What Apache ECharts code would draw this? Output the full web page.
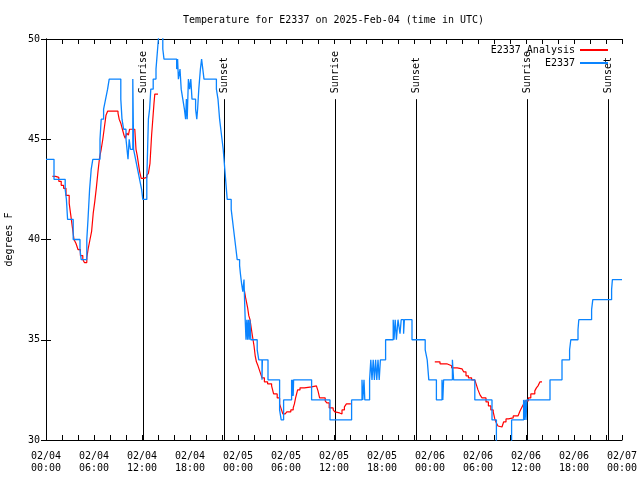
<!DOCTYPE html>
<html><head><meta charset="utf-8">
<script src="https://cdn.jsdelivr.net/npm/echarts@6/dist/echarts.min.js"></script>
<style>html,body{margin:0;padding:0;background:#fff}#c{width:640px;height:480px}</style>
</head><body><div id="c"></div>
<script>
// hours since 02/04 00:00 UTC
const xTickLabels = ['02/04\n00:00','02/04\n06:00','02/04\n12:00','02/04\n18:00','02/05\n00:00','02/05\n06:00','02/05\n12:00','02/05\n18:00','02/06\n00:00','02/06\n06:00','02/06\n12:00','02/06\n18:00','02/07\n00:00'];

const obsHours = [0,1.0,2.4,2.55,2.7,3.4,4.25,4.4,5.1,5.25,5.45,5.65,5.85,6.75,6.9,7.2,7.45,7.7,7.9,9.35,9.5,9.7,10.0,10.25,10.4,10.55,10.85,10.95,11.2,11.45,11.7,11.95,12.1,12.6,12.7,12.8,12.95,13.1,13.4,13.75,13.95,14.15,14.6,14.75,
 16.33,16.45,16.55,16.75,16.9,17.1,17.3,17.45,17.55,17.65,17.8,17.95,18.1,18.25,18.5,18.7,18.85,18.95,19.1,19.3,19.45,19.6,19.75,21.3,21.5,21.7,21.85,22.0,22.15,22.25,22.35,22.45,22.55,22.65,23.15,23.3,23.45,23.6,23.75,23.9,
 24.2,24.3,24.45,24.6,24.75,24.82,24.9,25.0,25.1,25.2,25.3,25.4,25.5,25.6,26.4,26.6,27.0,27.05,27.75,29.2,29.4,29.7,30.7,30.78,30.84,30.9,30.95,33.2,35.5,38.2,39.5,39.6,39.75,39.85,40.45,40.6,40.75,40.9,41.05,41.2,41.35,41.5,41.65,41.8,42.45,43.4,43.5,43.65,43.8,44.0,44.25,44.4,44.7,44.8,45.75,
 47.4,47.65,47.85,48.8,49.5,49.6,49.7,50.8,50.95,53.6,55.75,56.3,58.2,59.7,59.8,59.9,60.0,60.1,63.0,64.5,65.45,65.6,66.5,66.6,68.2,68.35,70.7,70.8,72];
const obsTempF = [44,43,42.5,42,41,40,39.5,39,40,41,42.5,43.5,44,45,46,46.5,47,47.5,48,47,46,45.5,45,44,45,44.5,48,44.5,44,43.5,43,42.5,42,43,44.5,46,46.5,47.5,48,48.5,49.5,50.5,49.5,49,
 48.5,49,48,48.5,47.5,47,46.5,46,47,46,48,47.5,48,47,47,46.5,46,46.5,47.5,48.5,49,48.5,48,47.5,47,46,45.5,45,44.5,44,43.5,43,42.5,42,41.5,41,40.5,40,39.5,39,
 38.7,38.3,37.8,37.4,38,37,36,35,36,35,36,35,36,35,34.5,34,33,34,33,31.5,31,32,33,32.2,33,32.2,33,32,31,32,33,32,33,32,33,34,33,34,33,34,33,34,33,34,35,36,35,36,35,36,35.3,36,35.3,36,35,
 34.5,34,33,32,33,32,33,34,33,32,31,29,31,32,31,32,31,32,33,34,34.5,35,35.5,36,36.5,37,37.5,38,38];

const anaHours = [0.8,1.2,1.6,1.9,2.2,2.5,2.9,3.1,3.3,3.5,3.75,4.0,4.3,4.6,4.8,5.1,5.3,5.5,5.7,5.9,6.1,6.3,6.5,6.7,6.9,7.1,7.3,7.5,7.7,9.0,9.15,9.35,9.55,9.75,9.9,10.1,10.3,10.45,11.1,11.25,11.4,11.55,11.7,11.9,12.2,12.6,12.8,13.0,13.1,13.2,13.35,13.5,13.6,13.9,
 14.0,
 24.8,24.95,25.05,25.2,25.35,25.5,25.65,25.8,26.0,26.15,26.3,26.5,26.75,27.0,27.3,27.7,28.2,28.45,28.9,29.2,29.4,29.6,29.9,30.1,30.6,30.9,31.05,31.2,31.45,31.75,32.3,33.2,33.8,34.0,34.2,34.9,35.1,35.4,35.9,36.1,36.3,36.7,37.0,37.3,37.55,38.0,
 38.1,
 48.6,49.25,50.1,50.4,50.7,51.4,52.0,52.2,52.5,52.8,53.2,53.6,53.8,54.0,54.25,54.5,55.0,55.3,55.6,55.9,56.1,56.3,56.5,56.7,57.0,57.2,57.5,57.8,58.4,59.0,59.25,59.5,59.7,59.9,60.3,60.6,61.1,61.3,61.5,61.75,62.0];
const anaTempF = [43.15,43.1,42.9,42.7,42.55,42.2,41.8,41.2,40.6,40.0,39.8,39.5,39.2,39.0,38.85,39.1,39.6,40.0,40.4,41.3,41.9,42.6,43.4,44.1,44.5,45.0,45.6,46.2,46.4,46.3,46.0,45.8,45.5,45.2,45.05,45.3,45.2,45.5,45.5,44.5,44.2,43.8,43.4,43.05,43.1,43.2,43.3,43.8,44.5,45.2,46.0,46.8,47.25,47.25,
 null,
 37.45,37.1,36.9,36.6,36.2,36.0,35.6,35.2,34.7,34.2,33.9,33.7,33.4,33.1,32.9,32.8,32.7,32.3,32.1,31.8,31.55,31.3,31.3,31.4,31.5,31.6,31.8,32.1,32.5,32.6,32.65,32.7,32.7,32.45,32.1,31.95,31.85,31.6,31.5,31.4,31.35,31.3,31.5,31.65,31.8,31.8,
 null,
 33.9,33.8,33.75,33.7,33.6,33.55,33.5,33.4,33.2,33.1,33.0,32.95,32.75,32.5,32.25,32.1,31.9,31.7,31.5,31.4,31.05,30.85,30.7,30.65,30.7,30.9,31.05,31.1,31.2,31.2,31.45,31.65,31.8,31.95,32.1,32.3,32.45,32.6,32.7,32.9,32.9];

const sunEventHours = [12.15, 22.28, 36.12, 46.27, 60.07, 70.28];
const sunEventNames = ['Sunrise','Sunset','Sunrise','Sunset','Sunrise','Sunset'];

const FONT = 'DejaVu Sans Mono';
const txt = {fontFamily: FONT, fontSize: 10, color: '#000'};

const obsData = obsHours.map((h, i) => [h, obsTempF[i]]);
const anaData = anaHours.map((h, i) => [h, anaTempF[i] === null ? '-' : anaTempF[i]]);
const sunData = sunEventHours.map((h, i) => [h, i]);

const axisLine = {show: true, lineStyle: {color: '#000', width: 1}};
const xCommon = {
  type: 'value', min: 0, max: 72, interval: 6,
  axisLine: axisLine,
  axisTick: {show: true, inside: true, length: 5, lineStyle: {color: '#000'}},
  minorTick: {show: true, splitNumber: 3, length: 5, lineStyle: {color: '#000'}},
  splitLine: {show: false}, minorSplitLine: {show: false}
};
const yCommon = {
  type: 'value', min: 30, max: 50, interval: 5,
  axisLine: axisLine,
  axisTick: {show: true, inside: true, length: 5, lineStyle: {color: '#000'}},
  splitLine: {show: false}
};

const chart = echarts.init(document.getElementById('c'));
chart.setOption({
  animation: false,
  backgroundColor: '#fff',
  title: {text: 'Temperature for E2337 on 2025-Feb-04 (time in UTC)', left: 178, top: 10,
    textStyle: Object.assign({fontWeight: 'normal'}, txt)},
  grid: {left: 46, right: 18, top: 39, bottom: 40, containLabel: false, outerBoundsMode: 'none'},
  legend: {
    orient: 'vertical', align: 'right', right: 26, top: 40,
    itemWidth: 28, itemHeight: 10, itemGap: 3,
    itemStyle: {opacity: 0},
    textStyle: txt,
    data: ['E2337 Analysis', 'E2337']
  },
  xAxis: [
    Object.assign({}, xCommon, {position: 'bottom',
      axisLabel: Object.assign({margin: 10, lineHeight: 12, formatter: v => xTickLabels[Math.round(v / 6)]}, txt)}),
    Object.assign({}, xCommon, {position: 'top', axisLabel: {show: false}})
  ],
  yAxis: [
    Object.assign({}, yCommon, {position: 'left', name: 'degrees F', nameLocation: 'middle', nameRotate: 90, nameGap: 32,
      nameTextStyle: txt, axisLabel: Object.assign({margin: 6}, txt)}),
    Object.assign({}, yCommon, {position: 'right', axisLabel: {show: false}})
  ],
  series: [
    {
      type: 'custom', name: 'sun', xAxisIndex: 0, yAxisIndex: 0, silent: true, z: 1,
      data: sunData,
      renderItem: function (params, api) {
        const t = api.value(0);
        const p0 = api.coord([t, 30]);
        const p1 = api.coord([t, 47.0]);
        const x = Math.round(p0[0]) + 0.5;
        return {
          type: 'group',
          children: [
            {type: 'line', shape: {x1: x, y1: p0[1], x2: x, y2: p1[1]}, style: {stroke: '#000', lineWidth: 1}},
            {type: 'text', x: x, y: p1[1] - 6, rotation: Math.PI / 2,
              style: {text: sunEventNames[params.dataIndex], align: 'left', verticalAlign: 'middle', font: '10px "' + FONT + '"', fill: '#000'}}
          ]
        };
      }
    },
    {
      type: 'line', name: 'E2337 Analysis', data: anaData, step: 'end', symbol: 'none', connectNulls: false,
      lineStyle: {color: '#ff0000', width: 1.2}, itemStyle: {color: '#ff0000'}, z: 2
    },
    {
      type: 'line', name: 'E2337', data: obsData, step: 'end', symbol: 'none',
      lineStyle: {color: '#0a84ff', width: 1.3}, itemStyle: {color: '#0a84ff'}, z: 3
    }
  ]
});
</script></body></html>
